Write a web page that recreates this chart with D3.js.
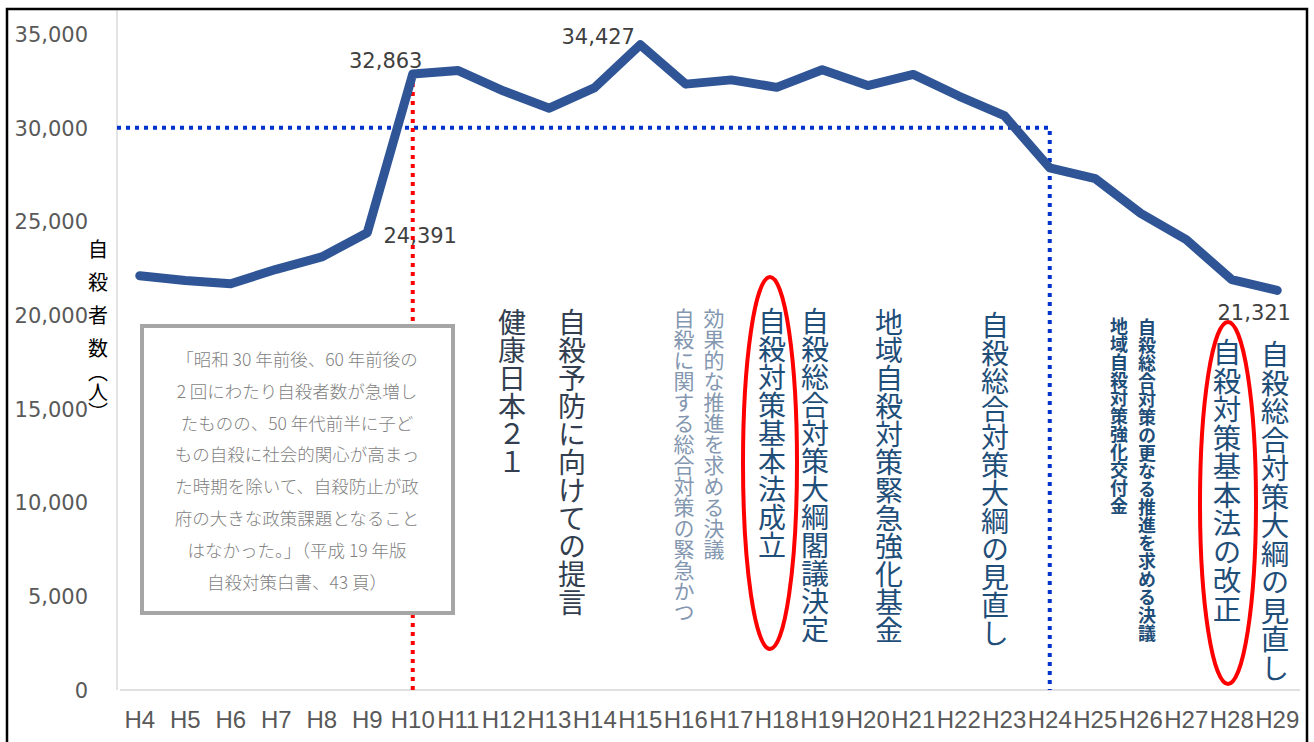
<!DOCTYPE html>
<html>
<head>
<meta charset="utf-8">
<script src="https://cdn.jsdelivr.net/npm/d3@7"></script>
<style>
  body { margin: 0; background: #fff; }
  svg { display: block; }
  .vt { writing-mode: vertical-rl; font-family: "Noto Sans CJK JP", sans-serif; }
</style>
</head>
<body>
<svg id="chart"></svg>
<script>
// base svg values
let width = 1314
let height = 742

// data
let years = ["H4","H5","H6","H7","H8","H9","H10","H11","H12","H13","H14","H15","H16",
             "H17","H18","H19","H20","H21","H22","H23","H24","H25","H26","H27","H28","H29"]
let suicides = [22104, 21851, 21679, 22445, 23104, 24391, 32863, 33048, 31957, 31042, 32143, 34427, 32325,
                32552, 32155, 33093, 32249, 32845, 31690, 30651, 27858, 27283, 25427, 24025, 21897, 21321]
let yTicks = [0, 5000, 10000, 15000, 20000, 25000, 30000, 35000]
let labelled = ["H9", "H10", "H15", "H29"]
let threshold = 30000
let thresholdEnd = "H24"
let markYear = "H10"

let quote = [
  "「昭和 30 年前後、60 年前後の",
  "2 回にわたり自殺者数が急増し",
  "たものの、50 年代前半に子ど",
  "もの自殺に社会的関心が高まっ",
  "た時期を除いて、自殺防止が政",
  "府の大きな政策課題となること",
  "はなかった。」（平成 19 年版",
  "自殺対策白書、43 頁）"
]

// vertical notes: text, centre x, top y, size, colour, weight
let notes = [
  ["健康日本２１", 512, 308, 28, "#333f50", 400],
  ["自殺予防に向けての提言", 572, 308, 28, "#333f50", 400],
  ["効果的な推進を求める決議", 714, 308, 21, "#8497b0", 400],
  ["自殺に関する総合対策の緊急かつ", 684, 308, 21, "#8497b0", 400],
  ["自殺対策基本法成立", 772, 307, 28, "#1f4e79", 400],
  ["自殺総合対策大綱閣議決定", 815, 307, 28, "#1f4e79", 400],
  ["地域自殺対策緊急強化基金", 889, 308, 28, "#1f4e79", 400],
  ["自殺総合対策大綱の見直し", 995, 311, 28, "#1f4e79", 400],
  ["地域自殺対策強化交付金", 1119, 317, 18, "#1f4e79", 700],
  ["自殺総合対策の更なる推進を求める決議", 1147, 318, 18, "#1f4e79", 700],
  ["自殺対策基本法の改正", 1227, 338, 28.5, "#1f4e79", 400],
  ["自殺総合対策大綱の見直し", 1275, 340, 28.5, "#1f4e79", 400]
]

let padding = { left: 117, right: 1300, top: 34, bottom: 690 }

let svg = d3.select("#chart")
  .attr("width", width)
  .attr("height", height)

svg.append("rect")
  .attr("width", width).attr("height", height)
  .attr("fill", "#fff")

// scales
let xScale = d3.scaleBand()
  .domain(years)
  .range([padding.left, padding.right])
let cx = d => xScale(d) + xScale.bandwidth() / 2

let yScale = d3.scaleLinear()
  .domain([0, 35000])
  .range([padding.bottom, padding.top])

// plot frame lines
svg.append("line")
  .attr("x1", padding.left).attr("x2", padding.left)
  .attr("y1", 10).attr("y2", padding.bottom)
  .attr("stroke", "#e3e3e3").attr("stroke-width", 2)
svg.append("line")
  .attr("x1", padding.left + 3).attr("x2", padding.right)
  .attr("y1", padding.bottom).attr("y2", padding.bottom)
  .attr("stroke", "#e0e0e0").attr("stroke-width", 2)

// y axis
let axisY = d3.axisLeft(yScale)
  .tickValues(yTicks)
  .tickSize(0)
  .tickFormat(d3.format(","))
svg.append("g")
  .attr("transform", "translate(88,0)")
  .call(axisY)
  .call(g => g.select(".domain").remove())
  .selectAll("text")
    .attr("x", 0)
    .attr("dy", "0.35em")
    .attr("fill", "#595959")
    .style("font-family", "DejaVu Sans, sans-serif")
    .style("font-size", "21px")

// x axis
let axisX = d3.axisBottom(xScale).tickSize(0)
svg.append("g")
  .attr("transform", `translate(0,${padding.bottom})`)
  .call(axisX)
  .call(g => g.select(".domain").remove())
  .selectAll("text")
    .attr("y", 30)
    .attr("dy", "0.35em")
    .attr("fill", "#595959")
    .style("font-family", "Liberation Sans Narrow, Liberation Sans, sans-serif")
    .style("font-size", "24px")

// y axis title
let ytitle = svg.append("text")
  .attr("class", "vt")
  .attr("x", 98).attr("y", 239)
  .attr("fill", "#000")
  .style("font-size", "20px")
ytitle.append("tspan").style("letter-spacing", "13px").text("自殺者")
ytitle.append("tspan").style("letter-spacing", "4px").text("数")
ytitle.append("tspan").style("letter-spacing", "0px").text("（人）")

// threshold guides
svg.append("path")
  .attr("d", `M${padding.left},${yScale(threshold)}H${cx(thresholdEnd)}V${padding.bottom}`)
  .attr("fill", "none")
  .attr("stroke", "#0033cc")
  .attr("stroke-width", 4)
  .attr("stroke-dasharray", "4 5")

svg.append("line")
  .attr("x1", cx(markYear)).attr("x2", cx(markYear))
  .attr("y1", yScale(suicides[years.indexOf(markYear)]))
  .attr("y2", padding.bottom)
  .attr("stroke", "#ff0000")
  .attr("stroke-width", 4)
  .attr("stroke-dasharray", "4 5")

// main line
let line = d3.line()
  .x((d, i) => cx(years[i]))
  .y(d => yScale(d))
svg.append("path")
  .datum(suicides)
  .attr("d", line)
  .attr("fill", "none")
  .attr("stroke", "#2f5597")
  .attr("stroke-width", 9)
  .attr("stroke-linejoin", "round")
  .attr("stroke-linecap", "round")

// data labels
let labelOffset = { H9: [53, 10], H10: [-27, -6], H15: [-42, -1], H29: [-23, 30] }
svg.selectAll(".dlabel")
  .data(labelled)
  .enter()
  .append("text")
    .attr("class", "dlabel")
    .attr("x", d => cx(d) + labelOffset[d][0])
    .attr("y", d => yScale(suicides[years.indexOf(d)]) + labelOffset[d][1])
    .attr("text-anchor", "middle")
    .attr("fill", "#404040")
    .style("font-family", "DejaVu Sans, sans-serif")
    .style("font-size", "21px")
    .text(d => d3.format(",")(suicides[years.indexOf(d)]))

// quote box
svg.append("rect")
  .attr("x", 142).attr("y", 326)
  .attr("width", 311).attr("height", 287)
  .attr("fill", "#fff")
  .attr("stroke", "#a6a6a6")
  .attr("stroke-width", 4)
svg.selectAll(".quote")
  .data(quote)
  .enter()
  .append("text")
    .attr("class", "quote")
    .attr("x", 297)
    .attr("y", (d, i) => 366 + i * 31.8)
    .attr("text-anchor", "middle")
    .attr("fill", "#7f7f7f")
    .style("font-family", "Noto Sans CJK JP, sans-serif")
    .style("font-weight", 300)
    .style("font-size", "17.5px")
    .text(d => d)

// vertical notes
svg.selectAll(".note")
  .data(notes)
  .enter()
  .append("text")
    .attr("class", "vt note")
    .attr("x", d => d[1])
    .attr("y", d => d[2])
    .attr("fill", d => d[4])
    .style("font-size", d => d[3] + "px")
    .style("font-weight", d => d[5])
    .text(d => d[0])

// red ellipses
let rings = [[770, 463, 27, 186], [1228, 503, 28, 181]]
svg.selectAll(".ring")
  .data(rings)
  .enter()
  .append("ellipse")
    .attr("cx", d => d[0]).attr("cy", d => d[1])
    .attr("rx", d => d[2]).attr("ry", d => d[3])
    .attr("fill", "none")
    .attr("stroke", "#ff0000")
    .attr("stroke-width", 4)

// outer border
svg.append("rect")
  .attr("x", 7).attr("y", 9)
  .attr("width", 1300).attr("height", 745)
  .attr("fill", "none")
  .attr("stroke", "#000")
  .attr("stroke-width", 2.5)
</script>
</body>
</html>
